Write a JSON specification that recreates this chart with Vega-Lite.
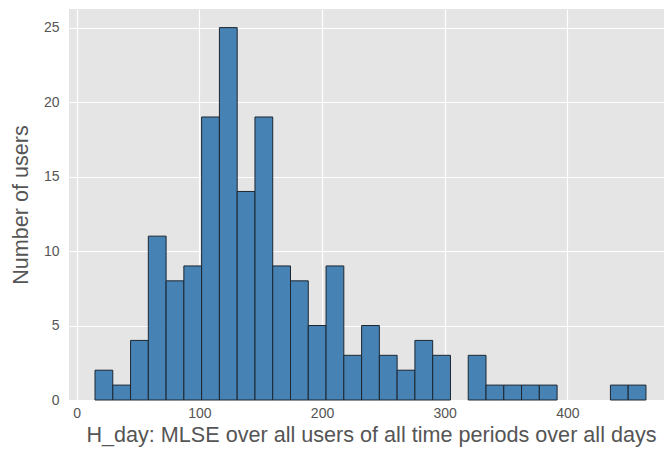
{
  "$schema": "https://vega.github.io/schema/vega-lite/v6.json",
  "width": 595,
  "height": 391,
  "autosize": "none",
  "padding": {"left": 69, "top": 9, "right": 0, "bottom": 51},
  "background": "white",
  "config": {
    "font": "Liberation Sans",
    "view": {"fill": "#E5E5E5", "stroke": null},
    "axis": {
      "domain": false,
      "ticks": false,
      "tickSize": 0,
      "grid": true,
      "gridColor": "#FFFFFF",
      "gridWidth": 1.2,
      "labelColor": "#555555",
      "labelFontSize": 14,
      "labelFont": "Liberation Sans",
      "titleColor": "#555555",
      "titleFontSize": 21.6,
      "titleFontWeight": "normal",
      "titleFont": "Liberation Sans"
    }
  },
  "data": {
    "values": [
      {"bin_start": 14.9, "bin_end": 29.39, "count": 2},
      {"bin_start": 29.39, "bin_end": 43.88, "count": 1},
      {"bin_start": 43.88, "bin_end": 58.37, "count": 4},
      {"bin_start": 58.37, "bin_end": 72.86, "count": 11},
      {"bin_start": 72.86, "bin_end": 87.35, "count": 8},
      {"bin_start": 87.35, "bin_end": 101.84, "count": 9},
      {"bin_start": 101.84, "bin_end": 116.33, "count": 19},
      {"bin_start": 116.33, "bin_end": 130.82, "count": 25},
      {"bin_start": 130.82, "bin_end": 145.31, "count": 14},
      {"bin_start": 145.31, "bin_end": 159.8, "count": 19},
      {"bin_start": 159.8, "bin_end": 174.29, "count": 9},
      {"bin_start": 174.29, "bin_end": 188.78, "count": 8},
      {"bin_start": 188.78, "bin_end": 203.27, "count": 5},
      {"bin_start": 203.27, "bin_end": 217.76, "count": 9},
      {"bin_start": 217.76, "bin_end": 232.25, "count": 3},
      {"bin_start": 232.25, "bin_end": 246.74, "count": 5},
      {"bin_start": 246.74, "bin_end": 261.23, "count": 3},
      {"bin_start": 261.23, "bin_end": 275.72, "count": 2},
      {"bin_start": 275.72, "bin_end": 290.21, "count": 4},
      {"bin_start": 290.21, "bin_end": 304.7, "count": 3},
      {"bin_start": 319.19, "bin_end": 333.68, "count": 3},
      {"bin_start": 333.68, "bin_end": 348.17, "count": 1},
      {"bin_start": 348.17, "bin_end": 362.66, "count": 1},
      {"bin_start": 362.66, "bin_end": 377.15, "count": 1},
      {"bin_start": 377.15, "bin_end": 391.64, "count": 1},
      {"bin_start": 435.11, "bin_end": 449.6, "count": 1},
      {"bin_start": 449.6, "bin_end": 464.09, "count": 1}
    ]
  },
  "mark": {"type": "bar", "fill": "#4682B4", "stroke": "#1c2630", "strokeWidth": 1},
  "encoding": {
    "x": {
      "field": "bin_start",
      "type": "quantitative",
      "scale": {"domain": [-6.3, 478.8], "nice": false, "zero": false},
      "axis": {"values": [0, 100, 200, 300, 400], "title": "H_day: MLSE over all users of all time periods over all days", "labelPadding": 6, "titlePadding": 4, "titleX": 302}
    },
    "x2": {"field": "bin_end"},
    "y": {
      "field": "count",
      "type": "quantitative",
      "scale": {"domain": [0, 26.25], "nice": false},
      "axis": {"values": [0, 5, 10, 15, 20, 25], "title": "Number of users", "labelPadding": 10, "titlePadding": 11}
    },
    "y2": {"datum": 0}
  }
}
